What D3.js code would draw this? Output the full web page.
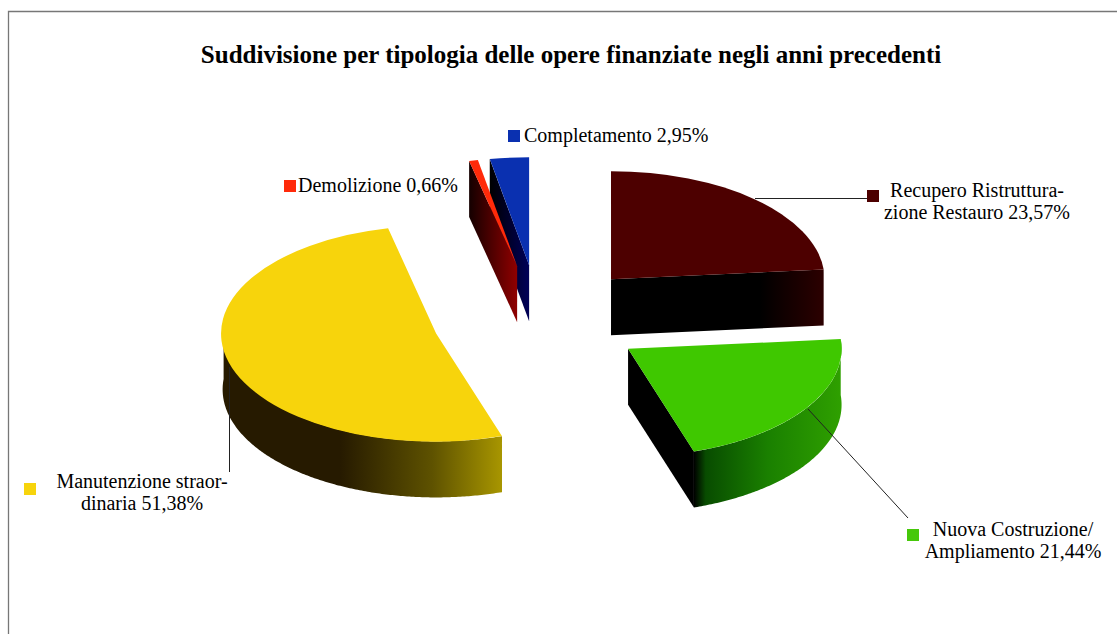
<!DOCTYPE html>
<html>
<head>
<meta charset="utf-8">
<script src="https://cdnjs.cloudflare.com/ajax/libs/d3/7.8.5/d3.min.js"></script>
<style>
    html, body { margin: 0; padding: 0; background: #fff; overflow: hidden; }
    text { font-family: "Liberation Serif", serif; fill: #000; }
</style>
</head>
<body>
<div id="graph"></div>
<script>
// Valori
const titleText = "Suddivisione per tipologia delle opere finanziate negli anni precedenti";
const categories = ["Recupero Ristruttura-|zione Restauro", "Nuova Costruzione/|Ampliamento", "Manutenzione straor-|dinaria", "Demolizione", "Completamento"];
const values = [23.57, 21.44, 51.38, 0.66, 2.95];
const topColors = ["#4d0000", "#3fc800", "#f7d40c", "#ff2a0a", "#0a30b0"];
const keyColors = ["#4d0000", "#46c80a", "#f7d40c", "#ff2a0a", "#0a30b0"];

const width = 1117, height = 634;

// Geometria della torta 3D
const cx = 539, cy = 319, rx = 213.5, ry = 108, depth = 56, explode = 0.5;

// Sfumature delle pareti [offset, colore]
const wallStops = [
    [[0, "#000"], [0.7, "#000"], [1, "#2c0000"]],
    [[0, "#000"], [0.08, "#084c00"], [0.5, "#1a8000"], [1, "#2fa000"]],
    [[0, "#261a00"], [0.42, "#261a00"], [0.75, "#5e5200"], [1, "#a89600"]],
    [[0, "#140000"], [1, "#900000"]],
    [[0, "#000"], [1, "#000058"]]
];

// Posizione etichette: [x, y] prima riga, tasto colorato, linea di richiamo
const labelLayout = [
    { x: 977, y: 197, anchor: "middle", key: [867, 190], leader: [[755, 198.5], [867, 198.5]] },
    { x: 1013, y: 536, anchor: "middle", key: [907, 529], leader: [[808, 409], [908, 518]] },
    { x: 142, y: 488, anchor: "middle", key: [24, 483], leader: [[229.5, 367], [229.5, 472]] },
    { x: 298, y: 192, anchor: "start", key: [284, 180], leader: null },
    { x: 524, y: 142, anchor: "start", key: [508, 130], leader: null }
];

const svg = d3.select("#graph")
    .append("svg")
    .attr("width", width)
    .attr("height", height);

// Cornice
svg.append("path")
    .attr("d", "M8.5," + height + "V11.5H" + width)
    .attr("fill", "none")
    .attr("stroke", "#777")
    .attr("stroke-width", 1.3);

// Titolo
svg.append("text")
    .attr("x", 571)
    .attr("y", 63)
    .attr("text-anchor", "middle")
    .attr("font-weight", "bold")
    .attr("font-size", 25)
    .text(titleText);

const pieData = d3.pie().sort(null)(values);
const arc = d3.arc().innerRadius(0).outerRadius(1);
const defs = svg.append("defs");

// Slice exploded: il vertice si sposta lungo l'angolo medio
const slices = pieData.map((d, i) => {
    const mid = (d.startAngle + d.endAngle) / 2;
    return {
        ...d, i,
        ax: cx + explode * rx * Math.sin(mid),
        ay: cy - explode * ry * Math.cos(mid)
    };
});

const rim = (s, a) => [s.ax + rx * Math.sin(a), s.ay - ry * Math.cos(a)];
const line = d3.line();

function addGradient(id, stops, x1, x2) {
    const g = defs.append("linearGradient")
        .attr("id", id)
        .attr("gradientUnits", "userSpaceOnUse")
        .attr("x1", x1).attr("x2", x2)
        .attr("y1", 0).attr("y2", 0);
    stops.forEach(st => g.append("stop").attr("offset", st[0]).attr("stop-color", st[1]));
}

// Dal fondo verso il davanti
const order = slices.slice().reverse();

order.forEach(s => {
    const g = svg.append("g");
    const steps = d3.range(s.startAngle, s.endAngle, 0.01).concat([s.endAngle]);

    // Parete curva esterna
    const visible = steps.filter(a => Math.cos(a) <= 0.1);
    if (visible.length > 1) {
        const top = visible.map(a => rim(s, a));
        const bottom = top.map(p => [p[0], p[1] + depth]).reverse();
        const [x0, x1] = d3.extent(top, p => p[0]);
        addGradient("wall" + s.i, wallStops[s.i], s.i === 0 ? s.ax : x0, x1);
        g.append("path")
            .attr("d", line(top.concat(bottom)) + "Z")
            .attr("fill", "url(#wall" + s.i + ")");
    }

    // Pareti radiali: inizio visibile a sinistra, fine visibile a destra
    const faces = [];
    if (Math.sin(s.startAngle) < -1e-6) faces.push(s.startAngle);
    if (Math.sin(s.endAngle) > 1e-6) faces.push(s.endAngle);
    faces.forEach((a, k) => {
        const p = rim(s, a);
        const id = "face" + s.i + "_" + k;
        addGradient(id, s.i === 1 ? [[0, "#000"], [1, "#000"]] : wallStops[s.i], Math.min(s.ax, p[0]), Math.max(s.ax, p[0]));
        g.append("path")
            .attr("d", line([[s.ax, s.ay], p, [p[0], p[1] + depth], [s.ax, s.ay + depth]]) + "Z")
            .attr("fill", "url(#" + id + ")");
    });

    // Faccia superiore
    g.append("path")
        .attr("transform", "translate(" + s.ax + "," + s.ay + ") scale(" + rx + "," + ry + ")")
        .attr("d", arc(s))
        .attr("fill", topColors[s.i]);
});

// Linee di richiamo
svg.selectAll(".leader")
    .data(labelLayout.filter(d => d.leader))
    .join("path")
    .attr("class", "leader")
    .attr("d", d => line(d.leader))
    .attr("fill", "none")
    .attr("stroke", "#222")
    .attr("stroke-width", 1);

// Etichette
const pct = v => d3.format(".2f")(v).replace(".", ",") + "%";

labelLayout.forEach((l, i) => {
    svg.append("rect")
        .attr("x", l.key[0]).attr("y", l.key[1])
        .attr("width", 12).attr("height", 12)
        .attr("fill", keyColors[i]);

    const lines = categories[i].split("|");
    lines[lines.length - 1] += " " + pct(values[i]);

    svg.append("text")
        .attr("text-anchor", l.anchor)
        .attr("font-size", 20)
        .selectAll("tspan")
        .data(lines)
        .join("tspan")
        .attr("x", l.x)
        .attr("y", (d, k) => l.y + k * 21.5)
        .text(d => d);
});
</script>
</body>
</html>
